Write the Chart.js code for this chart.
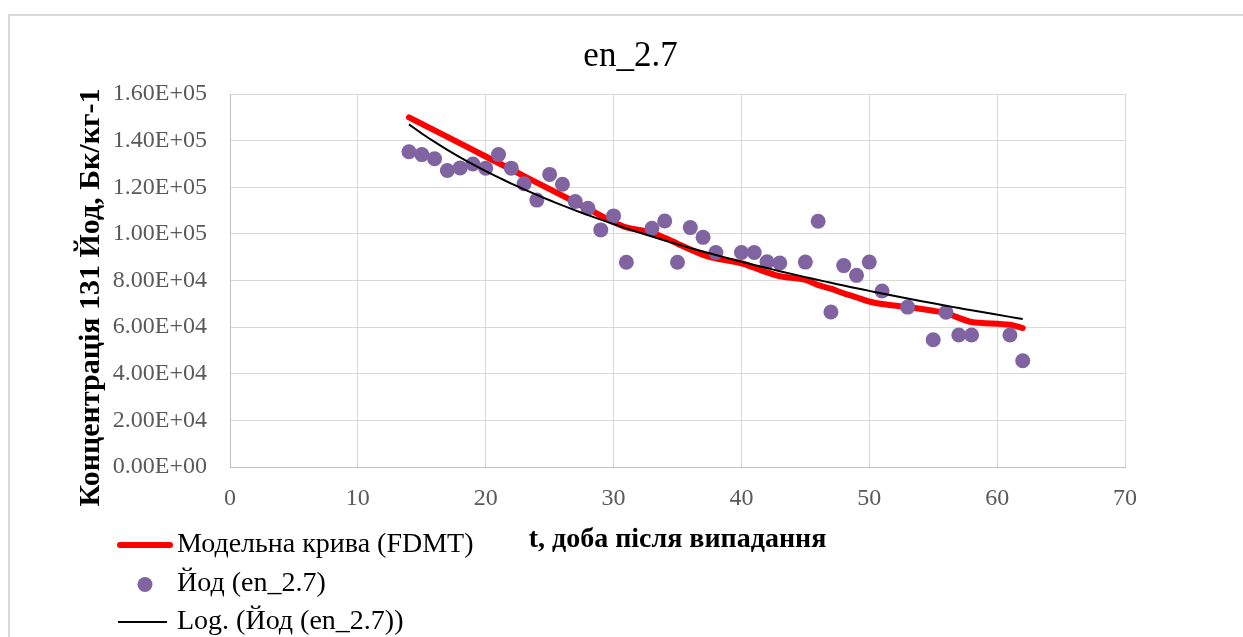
<!DOCTYPE html>
<html>
<head>
<meta charset="utf-8">
<script src="https://cdn.jsdelivr.net/npm/chart.js@4"></script>
<style>
  html, body { margin: 0; padding: 0; background: #fff; overflow: hidden; }
  #wrap { position: relative; width: 1243px; height: 637px; }
</style>
</head>
<body>
<div id="wrap"><canvas id="c" width="1243" height="637"></canvas></div>
<script>
// Sampling days (t, days after fallout)
const days = [14, 15, 16, 17, 18, 19, 20, 21, 22, 23, 24, 25, 26, 27, 28, 29, 30, 31,
              33, 34, 35, 36, 37, 38, 40, 41, 42, 43, 45, 46, 47, 48, 49, 50, 51,
              53, 55, 56, 57, 58, 61, 62];

// Measured I-131 concentration, Bq/kg
const iodine = [135200, 134000, 132200, 127200, 128300, 130000, 128200, 134000, 128200, 121500,
                114500, 125500, 121300, 113900, 111000, 101700, 107700, 87800,
                102400, 105500, 87800, 102700, 98500, 92000, 92000, 92000, 88000, 87500,
                87900, 105400, 66500, 86400, 82200, 87900, 75500,
                68600, 54600, 66400, 56600, 56600, 56600, 45600];

// FDMT model curve at the same days, Bq/kg
const model = [150000, 147200, 144400, 141600, 138800, 136000, 133200, 130400, 127600, 124800,
               122000, 119200, 116400, 113600, 110800, 107800, 105000, 102800,
               100500, 98300, 95800, 93300, 91000, 89500, 87400, 85500, 83500, 81800,
               80300, 78000, 76500, 74500, 72800, 71000, 69900,
               68600, 67000, 66000, 64000, 62200, 61000, 59600];

// Axis ranges and tick steps
const xRange = [0, 70];
const xStep = 10;
const yRange = [0, 160000];
const yStep = 20000;

const chartTitle = 'en_2.7';
const xTitle = 't, доба після випадання';
const yTitle = 'Концентрація 131 Йод, Бк/кг-1';
const seriesNames = ['Модельна крива (FDMT)', 'Йод (en_2.7)', 'Log. (Йод (en_2.7))'];

const SERIF = "'Liberation Serif', 'DejaVu Serif', serif";

// Logarithmic least-squares trend y = a*ln(x) + b over the measured points
function logTrend(xs, ys) {
  const n = xs.length;
  let sl = 0, sy = 0, sll = 0, sly = 0;
  for (let i = 0; i < n; i++) {
    const l = Math.log(xs[i]);
    sl += l; sy += ys[i]; sll += l * l; sly += l * ys[i];
  }
  const a = (n * sly - sl * sy) / (n * sll - sl * sl);
  const b = (sy - a * sl) / n;
  return xs.map(x => ({ x, y: a * Math.log(x) + b }));
}

// Excel-style scientific labels, e.g. 1.60E+05
function sciLabel(v) {
  if (v === 0) return '0.00E+00';
  const [m, e] = v.toExponential(2).split('e');
  const ev = parseInt(e, 10);
  return m + 'E' + (ev < 0 ? '-' : '+') + String(Math.abs(ev)).padStart(2, '0');
}

const pts = (xs, ys) => xs.map((x, i) => ({ x, y: ys[i] }));

// Outer frame, vertical axis caption and the stacked key below the plot
const frameAndKey = {
  id: 'frameAndKey',
  beforeDraw(chart) {
    const ctx = chart.ctx;
    ctx.save();
    ctx.fillStyle = '#fff';
    ctx.fillRect(0, 0, chart.width, chart.height);
    ctx.strokeStyle = '#d9d9d9';
    ctx.lineWidth = 2;
    ctx.beginPath();
    ctx.moveTo(9, chart.height);
    ctx.lineTo(9, 15);
    ctx.lineTo(chart.width, 15);
    ctx.stroke();
    ctx.restore();
  },
  afterDraw(chart) {
    const ctx = chart.ctx;

    // vertical axis caption
    ctx.save();
    ctx.translate(91, 297.5);
    ctx.rotate(-Math.PI / 2);
    ctx.font = 'bold 30px ' + SERIF;
    ctx.fillStyle = '#000';
    ctx.textAlign = 'center';
    ctx.textBaseline = 'middle';
    ctx.fillText(yTitle, 0, 0);
    ctx.restore();

    // key
    const order = [2, 1, 0]; // datasets are stored trend, points, model
    const x0 = 118, x1 = 172, textX = 177;
    let y = 545;
    ctx.save();
    ctx.font = '28px ' + SERIF;
    ctx.textBaseline = 'middle';
    ctx.textAlign = 'left';
    order.forEach(idx => {
      const ds = chart.data.datasets[idx];
      if (ds.showLine === false) {
        ctx.fillStyle = ds.backgroundColor;
        ctx.beginPath();
        ctx.arc((x0 + x1) / 2, y + 1, ds.pointRadius, 0, Math.PI * 2);
        ctx.fill();
      } else {
        const thick = ds.borderWidth > 3;
        ctx.strokeStyle = ds.borderColor;
        ctx.lineWidth = ds.borderWidth;
        ctx.lineCap = thick ? 'round' : 'butt';
        ctx.beginPath();
        ctx.moveTo(x0 + (thick ? 2 : 0), y);
        ctx.lineTo(thick ? x1 - 2 : x1 - 5, y);
        ctx.stroke();
      }
      ctx.fillStyle = '#000';
      ctx.fillText(ds.label, textX, y);
      y += 38.5;
    });
    ctx.restore();
  }
};

const tickFont = { family: SERIF, size: 24 };

new Chart(document.getElementById('c'), {
  type: 'scatter',
  data: {
    datasets: [
      {
        label: seriesNames[2],
        data: logTrend(days, iodine),
        showLine: true,
        borderColor: '#000',
        borderWidth: 2,
        pointRadius: 0,
        tension: 0.3,
        order: 0
      },
      {
        label: seriesNames[1],
        data: pts(days, iodine),
        showLine: false,
        backgroundColor: '#8064a2',
        borderColor: '#8064a2',
        borderWidth: 0,
        pointRadius: 7.5,
        order: 1
      },
      {
        label: seriesNames[0],
        data: pts(days, model),
        showLine: true,
        borderColor: '#ff0000',
        borderWidth: 6,
        borderCapStyle: 'round',
        borderJoinStyle: 'round',
        pointRadius: 0,
        tension: 0.3,
        order: 2
      }
    ]
  },
  options: {
    responsive: false,
    animation: false,
    events: [],
    layout: { padding: { left: 20, right: 2, top: 0, bottom: 80 } },
    plugins: {
      legend: { display: false },
      tooltip: { enabled: false },
      title: {
        display: true,
        text: chartTitle,
        color: '#000',
        font: { family: SERIF, size: 35, weight: 'normal', lineHeight: 1.2 },
        padding: { top: 36, bottom: 16 }
      }
    },
    scales: {
      x: {
        type: 'linear',
        min: xRange[0],
        max: xRange[1],
        ticks: { stepSize: xStep, color: '#595959', font: tickFont, padding: 17, maxRotation: 0 },
        grid: { color: '#d9d9d9', drawTicks: false },
        border: { color: '#bfbfbf', width: 1 },
        title: { display: true, text: xTitle, color: '#000',
                 font: { family: SERIF, size: 28, weight: 'bold', lineHeight: 1.2 }, padding: 0 },
        afterFit(s) { s.height = 90; }
      },
      y: {
        type: 'linear',
        position: 'left',
        min: yRange[0],
        max: yRange[1],
        ticks: { stepSize: yStep, color: '#595959', font: tickFont, padding: 23, callback: sciLabel },
        grid: { color: '#d9d9d9', drawTicks: false },
        border: { color: '#bfbfbf', width: 1 },
        afterFit(s) { s.width = 210; }
      },
      yRight: {
        type: 'linear',
        position: 'right',
        display: true,
        grid: { display: false },
        ticks: { display: false },
        border: { display: false },
        afterFit(s) { s.width = 116; }
      }
    }
  },
  plugins: [frameAndKey]
});
</script>
</body>
</html>
